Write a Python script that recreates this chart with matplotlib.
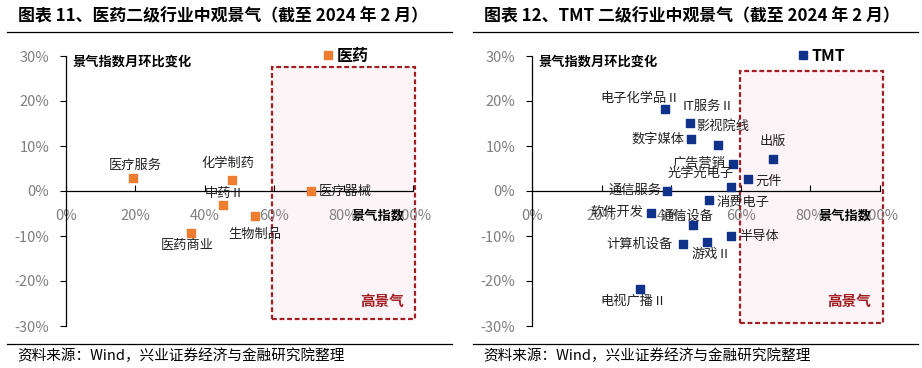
import matplotlib
matplotlib.use("Agg")
import matplotlib.pyplot as plt
from matplotlib.patches import Rectangle
from matplotlib.lines import Line2D

plt.rcParams['font.family'] = ['Noto Sans CJK SC', 'DejaVu Sans']

# 医药二级行业: 景气指数(%), 景气指数月环比变化(%)
med_names = ['医疗服务', '化学制药', '中药Ⅱ', '生物制品', '医药商业', '医疗器械']
med_x = [19.3, 47.8, 45.2, 54.4, 35.9, 70.5]
med_y = [3.0, 2.4, -3.1, -5.6, -9.3, -0.1]

# TMT二级行业
tmt_names = ['电子化学品Ⅱ', 'IT服务Ⅱ', '数字媒体', '影视院线', '出版', '广告营销',
             '元件', '光学光电子', '通信服务', '消费电子', '软件开发', '通信设备',
             '半导体', '计算机设备', '游戏Ⅱ', '电视广播Ⅱ']
tmt_x = [38.2, 45.5, 45.7, 53.4, 69.2, 57.7, 62.0, 57.2, 38.8, 51.0, 34.2, 46.4,
         57.2, 43.3, 50.2, 31.0]
tmt_y = [18.2, 15.1, 11.6, 10.3, 7.2, 6.1, 2.7, 1.0, 0.1, -1.9, -4.8, -7.6,
         -10.1, -11.8, -11.4, -21.8]

x_ticks = [0, 20, 40, 60, 80, 100]
y_ticks = [-30, -20, -10, 0, 10, 20, 30]

# label placement: (dx, dy in pixels, ha)
med_lbl = [(2, 12, 'center'), (-4, 17, 'center'), (2, 11, 'center'),
           (0, -18, 'center'), (-3, -13, 'center'), (8, 0, 'left')]
tmt_lbl = [(-25, 11, 'center'), (18, 17, 'center'), (-7, 0, 'right'),
           (5, 18, 'center'), (0, 17, 'center'), (-7, 0, 'right'),
           (8, -2, 'left'), (-30, 13, 'center'), (-6, 0, 'right'),
           (7, -3, 'left'), (-8, 0, 'right'), (-6, 9, 'center'),
           (8, 0, 'left'), (-10, 0, 'right'), (5, -12, 'center'),
           (-6, -12, 'center')]

W, H = 922, 368
fig = plt.figure(figsize=(W / 100, H / 100), dpi=100)

grey = '#7f7f7f'
red = '#a31f24'


def panel(x0, x1, names, xs, ys, lbls, color, legend, leg_x, title, rect):
    ax = fig.add_axes([x0 / W, (H - 326) / H, (x1 - x0) / W, 270 / H])
    ax.set_xlim(0, 100)
    ax.set_ylim(-30, 30)
    for s in ['top', 'right']:
        ax.spines[s].set_visible(False)
    ax.spines['bottom'].set_position(('data', 0))
    ax.spines['bottom'].set_linewidth(0.9)
    ax.spines['left'].set_linewidth(0.9)
    ax.set_xticks(x_ticks)
    ax.set_xticklabels([f'{v}%' for v in x_ticks])
    ax.set_yticks(y_ticks)
    ax.set_yticklabels([f'{v}%' for v in y_ticks])
    ax.tick_params(axis='x', direction='in', length=4, pad=13, labelsize=10.5,
                   labelcolor=grey)
    ax.tick_params(axis='y', direction='out', length=4, pad=8, labelsize=10.5,
                   labelcolor=grey)
    ax.patch.set_alpha(0)

    r = Rectangle((rect[0], rect[2]), rect[1] - rect[0], rect[3] - rect[2],
                  facecolor='#fdf4f7', edgecolor=red, linestyle=(0, (2.2, 1.2)),
                  linewidth=1.6, clip_on=False, zorder=0)
    ax.add_patch(r)

    ax.scatter(xs, ys, marker='s', s=36, color=color, zorder=3, clip_on=False)
    for n, x, y, (dx, dy, ha) in zip(names, xs, ys, lbls):
        ax.annotate(n, (x, y), xytext=(dx, dy), textcoords='offset pixels',
                    ha=ha, va='center', fontsize=9.5, color='#222222')

    ax.text(0.02, 0.98, '景气指数月环比变化', transform=ax.transAxes,
            fontsize=9.5, fontweight='bold', va='center', ha='left')
    ax.text(90, -5.5, '景气指数', fontsize=9.5, fontweight='bold',
            ha='center', va='center')
    ax.text(91, -24.4, '高景气', fontsize=10.5, fontweight='bold', color=red,
            ha='center', va='center')

    h = Line2D([], [], marker='s', linestyle='none', color=color, markersize=6)
    ax.legend([h], [legend], loc='center left', frameon=False,
              bbox_to_anchor=(leg_x, 1.0), handlelength=0.7, handletextpad=0.2,
              prop={'weight': 'bold', 'size': 11.5}, borderaxespad=0)

    lx0 = x0 - 59
    fig.text((lx0 + 11) / W, 1 - 16 / H, title, fontsize=12.2,
             fontweight='bold', va='center', ha='left')
    fig.add_artist(Line2D([lx0 / W, (lx0 + 445) / W], [1 - 32 / H] * 2,
                          color='black', lw=0.9))
    fig.add_artist(Line2D([lx0 / W, (lx0 + 445) / W], [1 - 344 / H] * 2,
                          color='black', lw=0.9))
    fig.text((lx0 + 10) / W, 1 - 356 / H, '资料来源：Wind，兴业证券经济与金融研究院整理',
             fontsize=10.5, va='center', ha='left')
    return ax


panel(66, 413, med_names, med_x, med_y, med_lbl, '#ed7d31', '医药', 0.720,
      '图表 11、医药二级行业中观景气（截至 2024 年 2 月）', (59.3, 100.6, -28.4, 27.6))
panel(532, 880, tmt_names, tmt_x, tmt_y, tmt_lbl, '#11328a', 'TMT', 0.744,
      '图表 12、TMT 二级行业中观景气（截至 2024 年 2 月）', (59.9, 101.0, -29.3, 26.7))

fig.savefig('out.png', dpi=100)
